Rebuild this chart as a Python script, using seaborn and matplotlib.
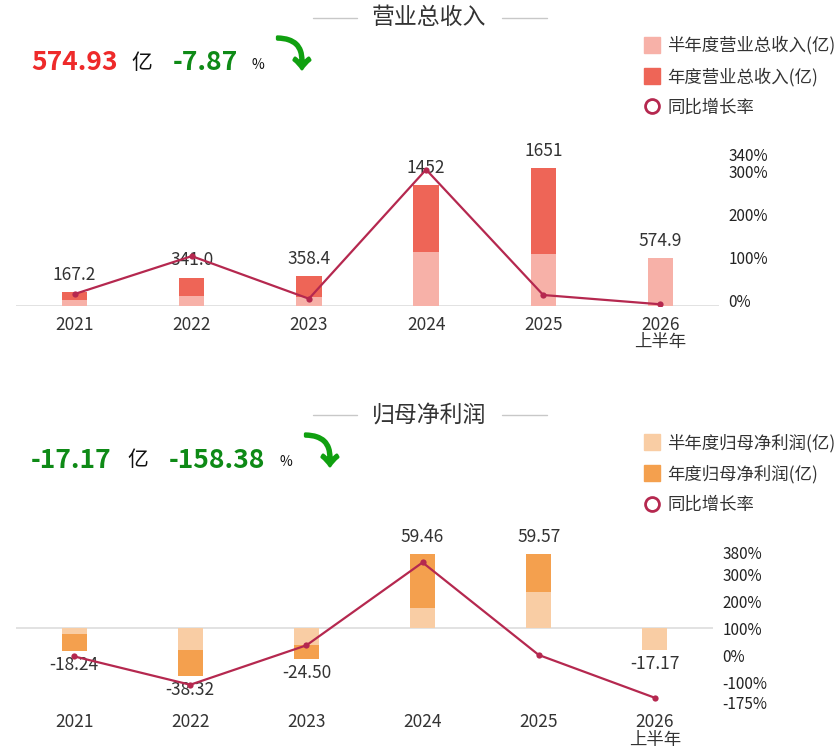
import numpy as np
import pandas as pd
import seaborn as sns
import matplotlib.pyplot as plt
import matplotlib.patheffects as pe
from matplotlib.lines import Line2D

years = ["2021", "2022", "2023", "2024", "2025", "2026\n上半年"]

# 营业总收入 (亿)
rev_half = [76, 124, 112, 646, 624, 574.93]
rev_year = [167.2, 341.0, 358.4, 1452, 1651, np.nan]
rev_growth = [16, 104, 5.1, 305, 13.7, -7.87]
rev_labels = ["167.2", "341.0", "358.4", "1452", "1651", "574.9"]
rev_ticks = [0, 100, 200, 300, 340]

# 归母净利润 (亿)
np_half = [-4.6, -17.1, -13.4, 16.5, 29.4, -17.17]
np_year = [-18.24, -38.32, -24.50, 59.46, 59.57, np.nan]
np_growth = [-5, -110, 36, 342.7, 0.2, -158.38]
np_labels = ["-18.24", "-38.32", "-24.50", "59.46", "59.57", "-17.17"]
np_ticks = [380, 300, 200, 100, 0, -100, -175]

W, H = 838, 753
FONT = ["Noto Sans CJK SC", "DejaVu Sans"]

sns.set_theme(style="white")
plt.rcParams["font.family"] = FONT

fig = plt.figure(figsize=(W / 100, H / 100), dpi=100)


def px(x, y):
    return x / W, 1 - y / H


def panel(box, half, year, growth, labels, ticks, lim_l, lim_r,
          c_half, c_year, tick_pad):
    left, top, right, bottom = box
    ax = fig.add_axes([left / W, 1 - bottom / H, (right - left) / W, (bottom - top) / H])
    df = pd.DataFrame({"year": years, "half": half, "annual": year})
    sns.barplot(data=df, x="year", y="annual", order=years, color=c_year,
                saturation=1, width=0.215, errorbar=None, ax=ax,
                edgecolor="none")
    sns.barplot(data=df, x="year", y="half", order=years, color=c_half,
                saturation=1, width=0.215, errorbar=None, ax=ax,
                edgecolor="none")
    ax.set_xlim(-0.5, 5.5)
    ax.set_ylim(*lim_l)
    ax.axhline(0, color="#dddddd", lw=1.2, zorder=0.5)
    for s in ax.spines.values():
        s.set_visible(False)
    ax.set_yticks([])
    ax.set_xlabel("")
    ax.set_ylabel("")
    ax.tick_params(axis="x", length=0, pad=tick_pad, labelsize=12.5, labelcolor="#333333")
    for t in ax.get_xticklabels():
        t.set_linespacing(0.95)

    for i, lab in enumerate(labels):
        v = year[i] if not np.isnan(year[i]) else half[i]
        off = 12.3 if v >= 0 else -10
        ax.annotate(lab, xy=(i, v), xytext=(0, off), textcoords="offset points",
                    ha="center", va="center", fontsize=12.5, color="#333333")

    ax2 = ax.twinx()
    sns.lineplot(x=np.arange(len(years)), y=growth, ax=ax2, color="#b5284f",
                 lw=1.6, marker="o", markersize=4.5, markeredgewidth=0)
    ax2.set_ylim(*lim_r)
    ax2.set_yticks(ticks)
    ax2.set_yticklabels([f"{t}%" for t in ticks])
    ax2.tick_params(axis="y", length=0, pad=7, labelsize=11, labelcolor="#222222")
    for s in ax2.spines.values():
        s.set_visible(False)
    return ax


panel((16, 154.5, 719, 306), rev_half, rev_year, rev_growth, rev_labels,
      rev_ticks, (0, 1816), (-11.8, 340), "#f7b1a8", "#ee6557", 7)
panel((16, 552.4, 713, 702.3), np_half, np_year, np_growth, np_labels,
      np_ticks, (-59.2, 60.7), (-175, 380), "#f9cda4", "#f4a04e", 8)


def header(ty, title, value, vcol, pct, xs):
    x0, y0 = px(429, ty)
    fig.text(x0, y0, title, ha="center", va="center", fontsize=16.5, color="#333333")
    for a, b in [(313, 357), (502, 547)]:
        fig.add_artist(Line2D([a / W, b / W], [y0, y0], color="#c8c8c8", lw=1))
    hy = ty + 45
    fig.text(*px(xs[0], hy), value, ha="left", va="center", fontsize=19,
             fontweight="bold", color=vcol)
    fig.text(*px(xs[1], hy), "亿", ha="left", va="center", fontsize=15, color="#111111")
    fig.text(*px(xs[2], hy), pct, ha="left", va="center", fontsize=19,
             fontweight="bold", color="#0e8a16")
    fig.text(*px(xs[3], hy + 2), "%", ha="left", va="center", fontsize=10, color="#111111")
    fig.text(*px(xs[4], hy - 7), "⤵", ha="left", va="center", fontsize=25,
             color="#10a010", family=["DejaVu Sans", "Noto Sans CJK SC", "Noto Sans"],
             path_effects=[pe.withStroke(linewidth=2.2, foreground="#10a010")])


header(18, "营业总收入", "574.93", "#ee2a2a", "-7.87", [31, 131, 173, 251, 276])
header(415, "归母净利润", "-17.17", "#0e8a16", "-158.38", [31, 127, 169, 279, 304])


def legend(top, labels, c_half, c_year):
    handles = [
        Line2D([], [], ls="none", marker="s", markersize=11, color=c_half),
        Line2D([], [], ls="none", marker="s", markersize=11, color=c_year),
        Line2D([], [], ls="none", marker="o", markersize=10, markerfacecolor="white",
               markeredgecolor="#b5284f", markeredgewidth=2),
    ]
    fig.legend(handles, labels, loc="upper left", bbox_to_anchor=px(643, top),
               frameon=False, fontsize=12.5, labelcolor="#333333", borderpad=0,
               borderaxespad=0, handlelength=1.0, handletextpad=0.4,
               labelspacing=0.72)


legend(36, ["半年度营业总收入(亿)", "年度营业总收入(亿)", "同比增长率"], "#f7b1a8", "#ee6557")
legend(434, ["半年度归母净利润(亿)", "年度归母净利润(亿)", "同比增长率"], "#f9cda4", "#f4a04e")

fig.savefig("out.png", dpi=100, facecolor="white")
